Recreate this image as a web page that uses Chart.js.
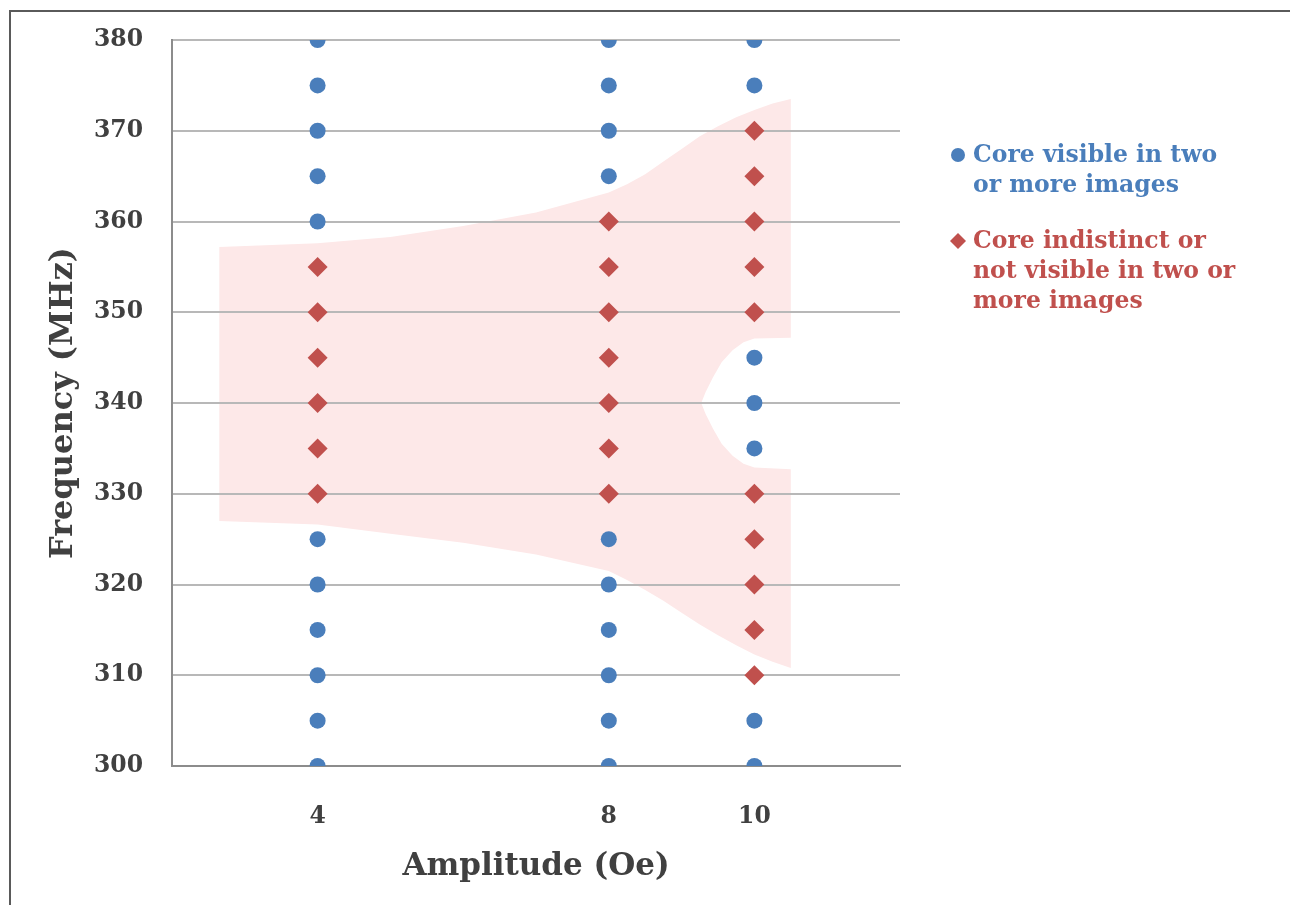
<!DOCTYPE html>
<html>
<head>
<meta charset="utf-8">
<script src="https://cdn.jsdelivr.net/npm/chart.js@4.4.1/dist/chart.umd.min.js"></script>
<style>
  html, body { margin: 0; padding: 0; background: #fff; }
  #wrap { position: relative; width: 1290px; height: 905px; }
  #frame { position: absolute; left: 9px; top: 10px; right: 0; bottom: 0;
           border-top: 2px solid #5a5a5a; border-left: 2px solid #5a5a5a; pointer-events: none; }
</style>
</head>
<body>
<div id="wrap">
  <canvas id="chart" width="1290" height="905"></canvas>
  <div id="frame"></div>
</div>
<script>
// amplitudes (Oe) where measurements were taken
const amplitudes = [4, 8, 10];

// frequencies (MHz) where the core was visible, per amplitude
const visibleAt4 = [300, 305, 310, 315, 320, 325, 360, 365, 370, 375, 380];
const visibleAt8 = [300, 305, 310, 315, 320, 325, 365, 370, 375, 380];
const visibleAt10 = [300, 305, 335, 340, 345, 375, 380];

// frequencies (MHz) where the core was indistinct / not visible
const hiddenAt4 = [330, 335, 340, 345, 350, 355];
const hiddenAt8 = [330, 335, 340, 345, 350, 355, 360];
const hiddenAt10 = [310, 315, 320, 325, 330, 350, 355, 360, 365, 370];

// outline of the shaded region (amplitude, frequency)
const regionX = [2.65, 4, 5, 6, 7, 8, 8.25, 8.5, 8.75, 9, 9.25, 9.5, 9.75, 10, 10.25, 10.5,
                 10.5, 10.0, 9.85, 9.7, 9.55, 9.43, 9.33, 9.27, 9.33, 9.43, 9.55, 9.7, 9.85, 10.0, 10.5,
                 10.5, 10.25, 10, 9.75, 9.5, 9.25, 9, 8.75, 8.5, 8.25, 8, 7, 6, 5, 4, 2.65, 2.65];
const regionY = [357.2, 357.6, 358.3, 359.5, 361, 363.2, 364.1, 365.2, 366.6, 368, 369.4, 370.5, 371.5, 372.3, 373, 373.5,
                 347.2, 347.1, 346.7, 345.8, 344.5, 342.8, 341.2, 340, 338.8, 337.2, 335.5, 334.2, 333.3, 332.9, 332.7,
                 310.8, 311.5, 312.3, 313.3, 314.4, 315.6, 316.9, 318.2, 319.4, 320.5, 321.5, 323.3, 324.6, 325.6, 326.6, 327.0, 357.2];

const yTicks = { min: 300, max: 380, step: 10 };

const toPoints = (pairs) => pairs.flatMap(([x, ys]) => ys.map(y => ({ x: x, y: y })));

const visiblePts = toPoints([[amplitudes[0], visibleAt4], [amplitudes[1], visibleAt8], [amplitudes[2], visibleAt10]]);
const hiddenPts = toPoints([[amplitudes[0], hiddenAt4], [amplitudes[1], hiddenAt8], [amplitudes[2], hiddenAt10]]);
const regionPts = regionX.map((x, i) => ({ x: x, y: regionY[i] }));

const FONT = '"DejaVu Serif", serif';
const BLUE = '#4a7ebb';
const RED = '#c0504d';

// legend on the right, with wrapped text
const sideLegend = {
    id: 'sideLegend',
    afterDraw(chart) {
        const ctx = chart.ctx;
        const x0 = chart.chartArea.right + 58;
        const tx = x0 + 15;
        ctx.save();
        ctx.font = 'bold 23.5px ' + FONT;
        ctx.textBaseline = 'middle';

        ctx.fillStyle = BLUE;
        ctx.beginPath();
        ctx.arc(x0, 155, 7, 0, Math.PI * 2);
        ctx.fill();
        ctx.fillText('Core visible in two', tx, 156);
        ctx.fillText('or more images', tx, 186);

        ctx.fillStyle = RED;
        ctx.beginPath();
        ctx.moveTo(x0, 233); ctx.lineTo(x0 + 8, 241); ctx.lineTo(x0, 249); ctx.lineTo(x0 - 8, 241);
        ctx.closePath();
        ctx.fill();
        ctx.fillText('Core indistinct or', tx, 242);
        ctx.fillText('not visible in two or', tx, 272);
        ctx.fillText('more images', tx, 302);
        ctx.restore();
    }
};

new Chart(document.getElementById('chart').getContext('2d'), {
    type: 'scatter',
    data: {
        datasets: [
            {
                label: 'Core visible in two or more images',
                data: visiblePts,
                pointStyle: 'circle',
                pointRadius: 8,
                pointHoverRadius: 8,
                backgroundColor: BLUE,
                borderColor: BLUE,
                borderWidth: 0,
                order: 1
            },
            {
                label: 'Core indistinct or not visible in two or more images',
                data: hiddenPts,
                pointStyle: 'rectRot',
                pointRadius: 10,
                pointHoverRadius: 10,
                backgroundColor: RED,
                borderColor: RED,
                borderWidth: 0,
                order: 0
            },
            {
                label: 'region',
                type: 'line',
                data: regionPts,
                showLine: true,
                fill: 'shape',
                backgroundColor: '#fde8e8',
                borderWidth: 0,
                borderColor: 'rgba(0,0,0,0)',
                pointRadius: 0,
                tension: 0,
                order: 5
            }
        ]
    },
    options: {
        responsive: false,
        animation: false,
        events: [],
        layout: { padding: { top: 40, right: 390, left: 0, bottom: 0 } },
        plugins: {
            legend: { display: false },
            tooltip: { enabled: false },
            filler: { drawTime: 'beforeDraw' }
        },
        scales: {
            x: {
                type: 'linear',
                min: 2,
                max: 12,
                afterBuildTicks: (axis) => { axis.ticks = amplitudes.map(v => ({ value: v })); },
                afterFit: (axis) => { axis.height = 139; },
                grid: { display: false },
                border: { display: true, color: '#8c8c8c', width: 2 },
                ticks: { color: '#404040', padding: 29, font: { family: FONT, size: 23.5, weight: 'bold' } },
                title: {
                    display: true,
                    text: 'Amplitude (Oe)',
                    color: '#404040',
                    padding: { top: 0, bottom: 19 },
                    font: { family: FONT, size: 31, weight: 'bold' }
                }
            },
            y: {
                type: 'linear',
                min: yTicks.min,
                max: yTicks.max,
                afterFit: (axis) => { axis.width = 172; axis.paddingTop = 0; axis.paddingBottom = 0; },
                grid: { color: '#b8b8b8', lineWidth: 2, drawTicks: false },
                border: { display: true, color: '#8c8c8c', width: 2 },
                ticks: { stepSize: yTicks.step, color: '#404040', padding: 29, font: { family: FONT, size: 23.5, weight: 'bold' } },
                title: {
                    display: true,
                    text: 'Frequency (MHz)',
                    color: '#404040',
                    padding: { top: 44, bottom: 0 },
                    font: { family: FONT, size: 32, weight: 'bold' }
                }
            }
        }
    },
    plugins: [sideLegend]
});
</script>
</body>
</html>
